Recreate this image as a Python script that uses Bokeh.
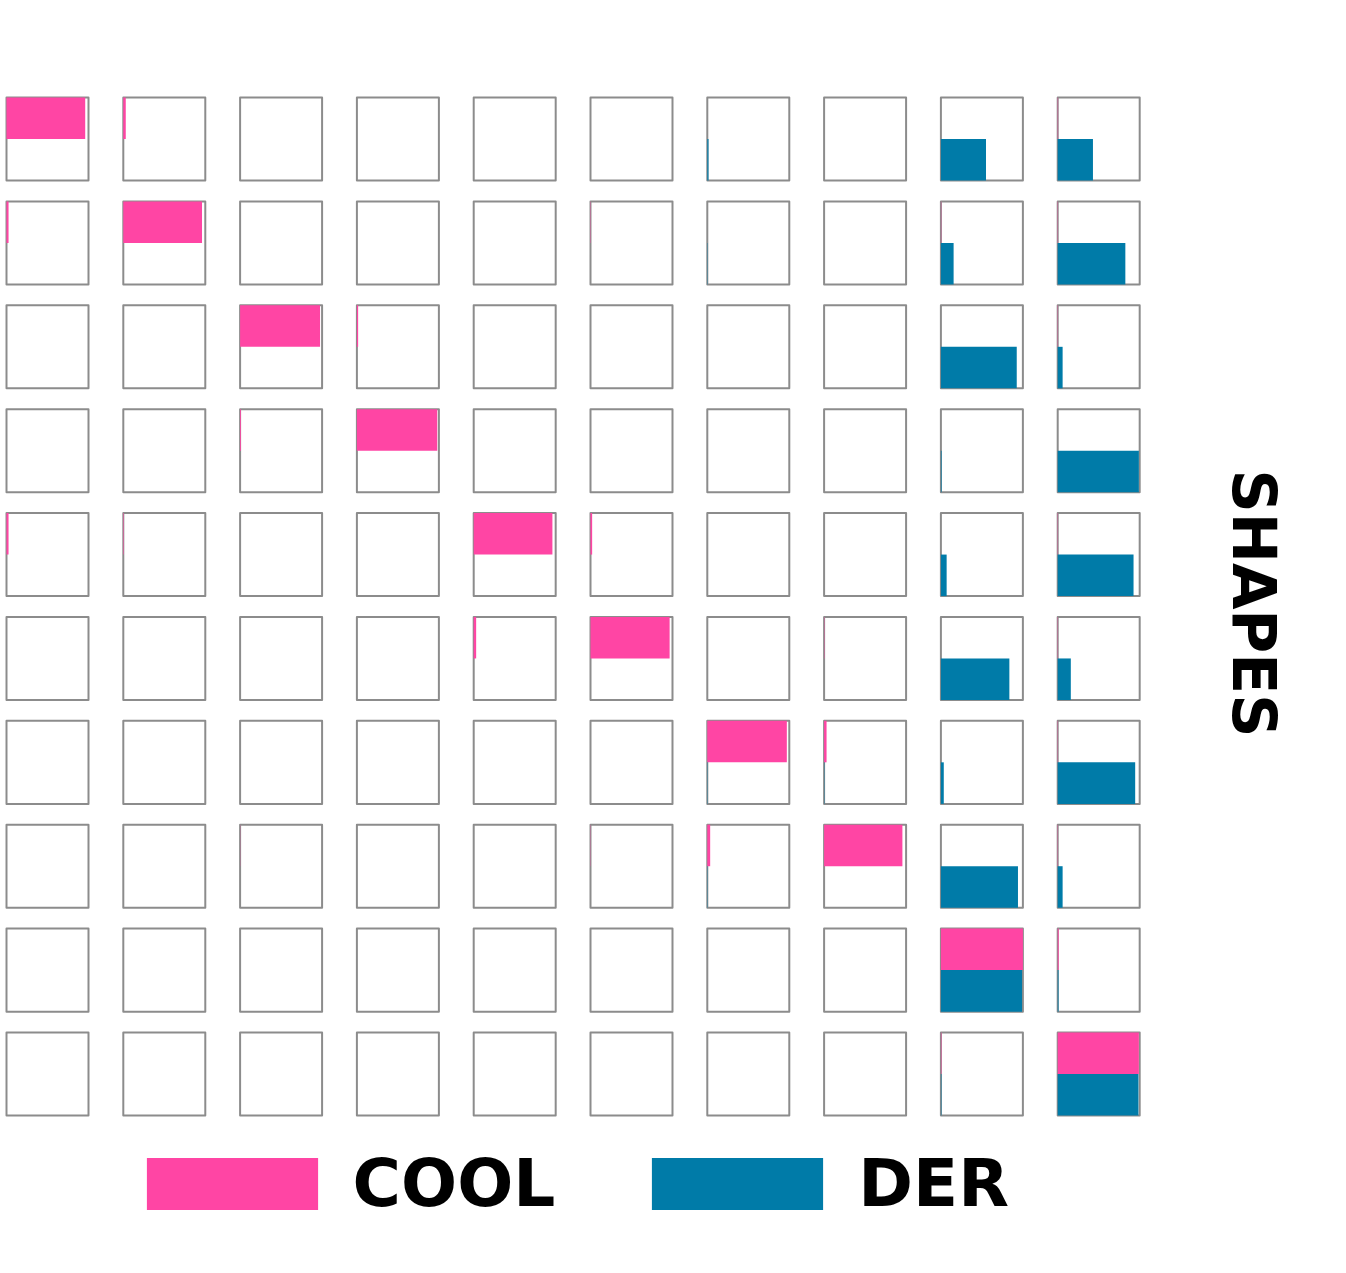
import math
from bokeh.plotting import figure
from bokeh.models import Range1d, Legend, LegendItem, Label, ColumnDataSource
from bokeh.embed import file_html
from bokeh.resources import INLINE

# ---- data -------------------------------------------------------------
n_rows = 10
n_cols = 10
series_labels = ["COOL", "DER"]
axis_label = "SHAPES"

# fraction of each cell filled (rows top -> bottom, columns left -> right)
cool = [
    [0.96, 0.03, 0, 0, 0, 0, 0, 0, 0, 0.005],
    [0.025, 0.96, 0, 0, 0, 0.004, 0, 0, 0.004, 0.004],
    [0, 0, 0.975, 0.015, 0, 0, 0, 0, 0, 0.004],
    [0, 0, 0.01, 0.98, 0, 0, 0, 0, 0, 0],
    [0.025, 0.006, 0, 0, 0.96, 0.02, 0, 0, 0, 0.004],
    [0, 0, 0, 0, 0.03, 0.965, 0, 0.004, 0, 0.004],
    [0, 0, 0, 0, 0, 0, 0.97, 0.03, 0, 0.004],
    [0, 0, 0.002, 0, 0, 0.003, 0.035, 0.955, 0, 0.004],
    [0, 0, 0, 0, 0, 0, 0, 0, 1.0, 0.012],
    [0, 0, 0, 0, 0, 0, 0, 0, 0.006, 0.99],
]
der = [
    [0, 0, 0, 0, 0, 0, 0.015, 0, 0.55, 0.43],
    [0, 0, 0, 0, 0, 0, 0.004, 0, 0.155, 0.825],
    [0, 0, 0, 0, 0, 0, 0, 0, 0.925, 0.06],
    [0, 0, 0, 0, 0, 0, 0, 0, 0.008, 0.99],
    [0, 0, 0, 0, 0, 0, 0, 0, 0.07, 0.925],
    [0, 0, 0, 0, 0, 0, 0, 0, 0.835, 0.16],
    [0, 0, 0, 0, 0, 0, 0.004, 0.004, 0.035, 0.945],
    [0, 0, 0, 0, 0, 0, 0.004, 0, 0.94, 0.06],
    [0, 0, 0, 0, 0, 0, 0, 0, 0.99, 0.01],
    [0, 0, 0, 0, 0, 0, 0, 0, 0.006, 0.985],
]

# ---- style ------------------------------------------------------------
PINK = "#ff45a4"
BLUE = "#007ba8"
GRAY = "#8c8c8c"
CELL_W = 0.702
CELL_H = 0.8
FONT = "DejaVu Sans"

W, H = 1330, 1257
px_per_x = 116.8
px_per_y = 103.88
x_start = -6 / px_per_x
x_end = x_start + W / px_per_x
grid_top = (n_rows - 1) + CELL_H
y_end = grid_top + 97 / px_per_y
y_start = y_end - H / px_per_y

p = figure(width=W, height=H, output_backend="svg", toolbar_location=None,
           x_range=Range1d(x_start, x_end), y_range=Range1d(y_start, y_end),
           min_border=0, min_border_left=0, min_border_right=0,
           min_border_top=0, min_border_bottom=0)
p.axis.visible = False
p.grid.visible = False
p.outline_line_color = None
p.background_fill_color = "white"
p.border_fill_color = "white"

cell_left, cell_bottom = [], []
cool_l, cool_r, cool_b = [], [], []
der_l, der_r, der_b = [], [], []
for i in range(n_rows):
    base = (n_rows - 1) - i
    for j in range(n_cols):
        cell_left.append(j)
        cell_bottom.append(base)
        cool_l.append(j)
        cool_r.append(j + CELL_W * cool[i][j])
        cool_b.append(base)
        der_l.append(j)
        der_r.append(j + CELL_W * der[i][j])
        der_b.append(base)

cells = ColumnDataSource(dict(
    left=cell_left, right=[c + CELL_W for c in cell_left],
    bottom=cell_bottom, top=[b + CELL_H for b in cell_bottom]))
p.quad(left="left", right="right", bottom="bottom", top="top", source=cells,
       fill_color=None, line_color=GRAY, line_width=2, line_join="round")

cool_src = ColumnDataSource(dict(
    left=cool_l, right=cool_r,
    bottom=[b + CELL_H / 2 for b in cool_b], top=[b + CELL_H for b in cool_b]))
der_src = ColumnDataSource(dict(
    left=der_l, right=der_r,
    bottom=der_b, top=[b + CELL_H / 2 for b in der_b]))

r_cool = p.quad(left="left", right="right", bottom="bottom", top="top",
                source=cool_src, fill_color=PINK, line_color=None)
r_der = p.quad(left="left", right="right", bottom="bottom", top="top",
               source=der_src, fill_color=BLUE, line_color=None)

legend = Legend(items=[LegendItem(label=series_labels[0], renderers=[r_cool]),
                       LegendItem(label=series_labels[1], renderers=[r_der])],
                orientation="horizontal", location=(124.6, 35.5),
                glyph_width=214, glyph_height=65, label_standoff=14,
                spacing=75, padding=0, margin=0,
                label_text_font=FONT, label_text_font_style="bold",
                label_text_font_size="66px", label_text_color="black",
                border_line_color=None, background_fill_alpha=0)
p.add_layout(legend, "center")

lab = Label(x=1253 / px_per_x + x_start, y=grid_top / 2 + 3 / px_per_y,
            text=axis_label, angle=-math.pi / 2, text_align="center",
            text_baseline="middle", text_font=FONT, text_font_style="bold",
            text_font_size="60px", text_color="black")
p.add_layout(lab)

open("out.html", "w").write(file_html(p, INLINE))
